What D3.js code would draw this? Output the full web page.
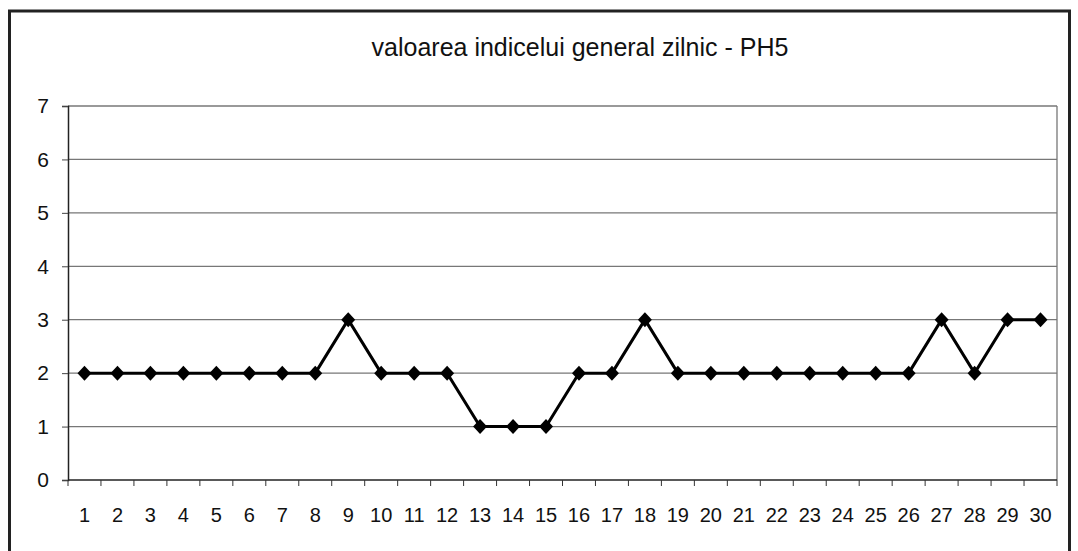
<!DOCTYPE html>
<html>
<head>
<meta charset="utf-8">
<script src="https://cdn.jsdelivr.net/npm/d3@7"></script>
<style>
  body { margin: 0; background: #fff; }
  svg { display: block; font-family: "Liberation Sans", Arial, sans-serif; }
</style>
</head>
<body>
<script>
// date grafic
var zile = d3.range(1, 31).map(String);
var valori = [2, 2, 2, 2, 2, 2, 2, 2, 3, 2, 2, 2, 1, 1, 1, 2, 2, 3, 2, 2, 2, 2, 2, 2, 2, 2, 3, 2, 3, 3];
var yTicks = [0, 1, 2, 3, 4, 5, 6, 7];
var titlu = "valoarea indicelui general zilnic - PH5";

var latime = 1078, inaltime = 551;
var margin = { top: 106, right: 21, bottom: 71, left: 68 };
var w = latime - margin.left - margin.right;
var h = inaltime - margin.top - margin.bottom;

var svg = d3.select("body").append("svg")
    .attr("width", latime)
    .attr("height", inaltime);

// rama exterioara
svg.append("rect")
    .attr("x", 9.5).attr("y", 11)
    .attr("width", 1060).attr("height", 560)
    .attr("fill", "none")
    .attr("stroke", "#222")
    .attr("stroke-width", 3);

svg.append("text")
    .attr("x", 580).attr("y", 56)
    .attr("text-anchor", "middle")
    .style("font-size", "25px")
    .attr("fill", "#111")
    .text(titlu);

var g = svg.append("g").attr("transform", "translate(" + margin.left + "," + margin.top + ")");

var x = d3.scaleBand().domain(zile).range([0, w]);
var y = d3.scaleLinear().domain([0, 7]).range([h, 0]);

// grila
g.selectAll(".grid").data(yTicks.slice(1))
    .enter().append("line")
    .attr("x1", 0).attr("x2", w)
    .attr("y1", d => y(d)).attr("y2", d => y(d))
    .attr("stroke", "#777")
    .attr("stroke-width", 1.3);

// marginea dreapta a zonei de plotare
g.append("line")
    .attr("x1", w).attr("x2", w)
    .attr("y1", 0).attr("y2", h)
    .attr("stroke", "#777")
    .attr("stroke-width", 1.3);

// axa Y
var axaY = g.append("g")
    .call(d3.axisLeft(y).tickValues(yTicks).tickSize(6).tickPadding(13).tickFormat(d3.format("d")));
axaY.select(".domain").attr("stroke", "#222").attr("stroke-width", 1.5);
axaY.selectAll("line").attr("stroke", "#444");
axaY.selectAll("text").style("font-size", "21px").attr("fill", "#111");

// axa X
var xTickPos = d3.range(0, zile.length + 1).map(i => i * x.step());
var axaX = g.append("g").attr("transform", "translate(0," + h + ")");
axaX.append("line")
    .attr("x1", 0).attr("x2", w)
    .attr("stroke", "#222").attr("stroke-width", 1.5);
axaX.selectAll(".tick").data(xTickPos)
    .enter().append("line")
    .attr("x1", d => d).attr("x2", d => d)
    .attr("y1", 0).attr("y2", 6)
    .attr("stroke", "#333");
axaX.selectAll(".eticheta").data(zile)
    .enter().append("text")
    .attr("x", d => x(d) + x.bandwidth() / 2)
    .attr("y", 42)
    .attr("text-anchor", "middle")
    .style("font-size", "20px")
    .attr("fill", "#111")
    .text(d => d);

// linia
var linie = d3.line()
    .x((d, i) => x(zile[i]) + x.bandwidth() / 2)
    .y(d => y(d));

g.append("path")
    .datum(valori)
    .attr("d", linie)
    .attr("fill", "none")
    .attr("stroke", "#000")
    .attr("stroke-width", 3)
    .attr("stroke-linejoin", "miter");

// markeri romb
g.selectAll(".romb").data(valori)
    .enter().append("path")
    .attr("transform", (d, i) => "translate(" + (x(zile[i]) + x.bandwidth() / 2) + "," + y(d) + ")")
    .attr("d", "M0,-7.5L7,0L0,7.5L-7,0Z")
    .attr("fill", "#000");
</script>
</body>
</html>
